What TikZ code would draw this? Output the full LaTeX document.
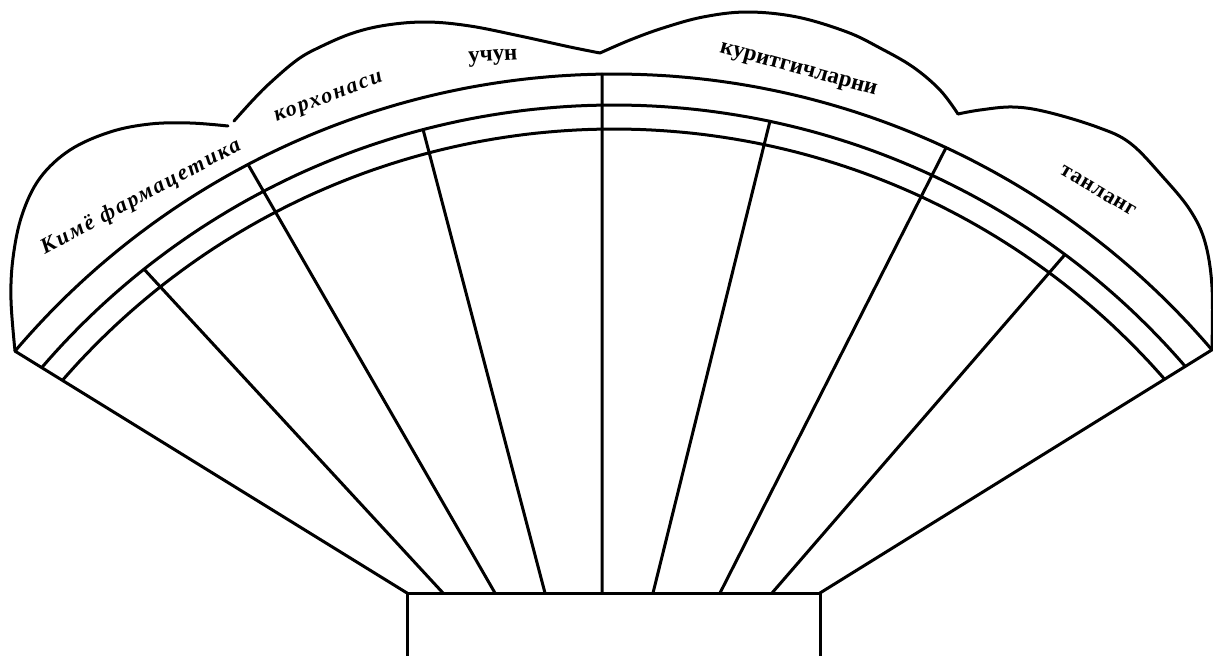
\documentclass[tikz,border=0pt]{standalone}
\usepackage{fontspec}
\setmainfont{Liberation Serif}
\usetikzlibrary{calc}
\begin{document}
\begin{tikzpicture}[x=1pt,y=-1pt,line join=round,line cap=round,
  ln/.style={line width=3pt,black},
  lbl/.style={inner sep=0pt,font=\bfseries\fontsize{22}{22}\selectfont}]
\useasboundingbox (0,0) rectangle (1213,656);
% centre of the arcs and base corners
\coordinate (C) at (614,860);
\coordinate (BL) at (407,593);
\coordinate (BR) at (820,593);
\coordinate (OL) at ({614+786*cos(-139.65)},{860+786*sin(-139.65)});
\coordinate (OR) at ({614+786*cos(-40.47)},{860+786*sin(-40.47)});
% base box
\draw[ln] (407,660) -- (BL) -- (BR) -- (820,660);
% side lines
\draw[ln] (BL) -- (OL);
\draw[ln] (BR) -- (OR);
% outer arc
\draw[ln] plot[domain=-139.65:-40.47,samples=160] ({614+786*cos(\x)},{860+786*sin(\x)});
% middle and inner arcs
\begin{scope}
\clip (BL) -- ($(BL)!1.4!(OL)$) -- (-200,-100) -- (1400,-100) -- ($(BR)!1.4!(OR)$) -- (BR) -- cycle;
\draw[ln] plot[domain=-155:-25,samples=160] ({614+755*cos(\x)},{860+755*sin(\x)});
\draw[ln] plot[domain=-155:-25,samples=160] ({614+731*cos(\x)},{860+731*sin(\x)});
\end{scope}
% spokes
\coordinate (T1) at ({614+755*cos(-128.5)},{860+755*sin(-128.5)});
\coordinate (T2) at ({614+786*cos(-117.75)},{860+786*sin(-117.75)});
\coordinate (T3) at ({614+755*cos(-104.65)},{860+755*sin(-104.65)});
\coordinate (T4) at ({614+786*cos(-90.87)},{860+786*sin(-90.87)});
\coordinate (T5) at ({614+755*cos(-78.08)},{860+755*sin(-78.08)});
\coordinate (T6) at ({614+786*cos(-65.01)},{860+786*sin(-65.01)});
\coordinate (T7) at ({614+755*cos(-53.32)},{860+755*sin(-53.32)});
\coordinate (B1) at (443,593);
\coordinate (B2) at (495,593);
\coordinate (B3) at (545,593);
\coordinate (B4) at (602,593);
\coordinate (B5) at (653,593);
\coordinate (B6) at (720,593);
\coordinate (B7) at (772,593);
\foreach \i in {1,...,7}{\draw[ln] (T\i) -- (B\i);}
% cloud outline
\draw[ln] plot[smooth,tension=0.6] coordinates {(OL) (11,300) (13,258) (22,215) (40,178) (70,150) (110,132) (150,124) (190,123) (228,126)};
\draw[ln] plot[smooth,tension=0.6] coordinates {(234,121) (253,100) (270,83) (297,60) (320,47) (353,33) (387,25) (427,22) (470,26) (520,36) (570,47) (600,53)};
\draw[ln] plot[smooth,tension=0.6] coordinates {(600,53) (630,40) (663,28) (703,17) (747,12) (797,17) (847,32) (880,48) (913,67) (940,90) (958,114)};
\draw[ln] plot[smooth,tension=0.6] coordinates {(958,114) (980,110) (1013,107) (1047,112) (1097,127) (1130,143) (1163,177) (1190,210) (1205,242) (1212,287) (OR)};
% labels
\node[lbl,rotate=28.2] (l1) at (141,197) {\itshape\addfontfeatures{LetterSpace=10}Кимё фармацетика};
\node[lbl,rotate=20.8] (l2) at (329,99) {\itshape\addfontfeatures{LetterSpace=9}корхонаси};
\node[lbl,rotate=3] (l3) at (493,58) {\fontsize{23}{23}\selectfont учун};
\node[lbl,rotate=-15.3] (l4) at (798,71) {\fontsize{23}{23}\selectfont куритгичларни};
\node[lbl,rotate=-30.3] (l5) at (1098,191) {\addfontfeatures{LetterSpace=3}танланг};
\end{tikzpicture}
\end{document}
